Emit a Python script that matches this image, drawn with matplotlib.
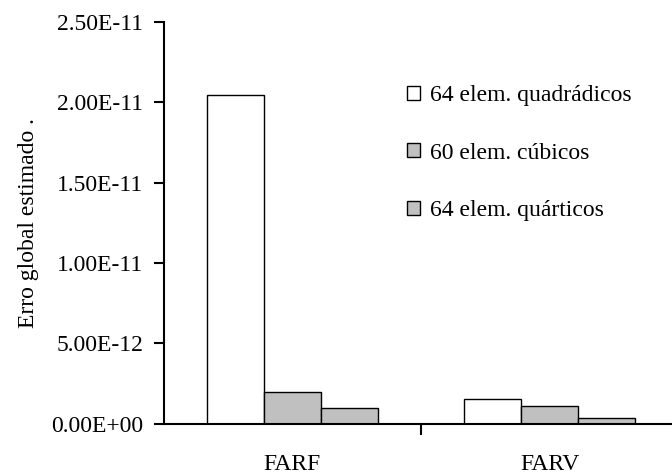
import numpy as np
import matplotlib.pyplot as plt

plt.rcParams['font.family'] = ['Liberation Serif', 'DejaVu Serif']

categorias = ["FARF", "FARV"]
series = ["64 elem. quadrádicos", "60 elem. cúbicos", "64 elem. quárticos"]
quadraticos = [2.045e-11, 1.54e-12]
cubicos = [1.98e-12, 1.12e-12]
quarticos = [0.98e-12, 0.36e-12]
cores = ["white", "#C0C0C0", "#C0C0C0"]
y_ticks = [0, 5e-12, 1e-11, 1.5e-11, 2e-11, 2.5e-11]
y_labels = ["0.00E+00", "5.00E-12", "1.00E-11", "1.50E-11", "2.00E-11", "2.50E-11"]

fs = 17

fig = plt.figure(figsize=(6.72, 4.75), dpi=100)
ax = fig.add_axes([0.244, 0.108, 0.756, 0.846])

x = np.arange(len(categorias))
w = 0.222
for i, (vals, lab, c) in enumerate(zip([quadraticos, cubicos, quarticos], series, cores)):
    ax.bar(x + (i - 1) * w, vals, w, color=c, edgecolor="black", linewidth=1.0, label=lab)

ax.set_xlim(-0.5, -0.5 + 508 / 257)
ax.set_ylim(0, 2.5e-11)
ax.set_yticks(y_ticks)
ax.set_yticklabels(y_labels, fontsize=fs)
ax.tick_params(axis="y", direction="out", length=7, width=1.5, pad=8)

ax.set_xticks([0.5])
ax.set_xticklabels([""])
ax.tick_params(axis="x", which="major", direction="out", length=8, width=1.5)
ax.set_xticks(x, minor=True)
ax.set_xticklabels(categorias, minor=True, fontsize=fs)
ax.tick_params(axis="x", which="minor", length=0, pad=22)

for s in ["top", "right"]:
    ax.spines[s].set_visible(False)
ax.spines["left"].set_linewidth(1.5)
ax.spines["bottom"].set_linewidth(1.5)

ax.set_ylabel("Erro global estimado .", fontsize=fs, labelpad=9)

ax.legend(loc="upper left", bbox_to_anchor=(0.46, 0.866), frameon=False, fontsize=fs,
          handlelength=0.55, handleheight=0.55, handletextpad=0.4, labelspacing=1.55,
          borderaxespad=0)

fig.savefig("out.png", dpi=100)
